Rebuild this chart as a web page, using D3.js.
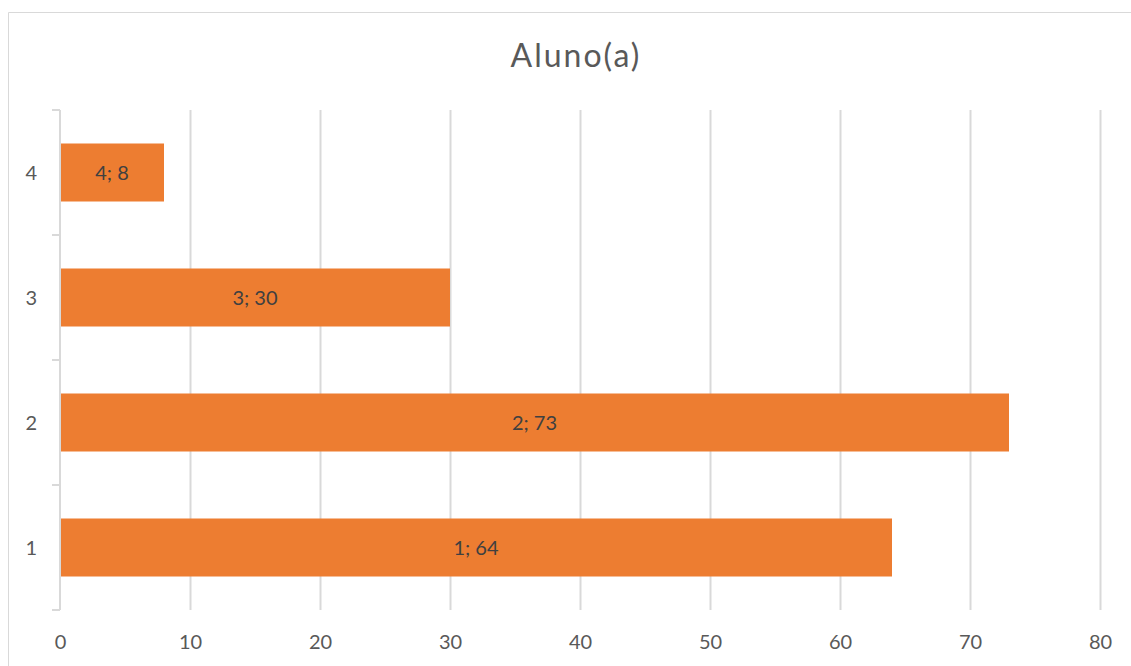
<!DOCTYPE html>
<html>
<head>
<meta charset="utf-8">
<script src="https://cdn.jsdelivr.net/npm/d3@7"></script>
<style>
  html, body { margin: 0; padding: 0; background: #fff; }
  svg { display: block; font-family: Lato, "Open Sans", sans-serif; }
</style>
</head>
<body>
<svg id="chart" width="1131" height="666"></svg>
<script>
const title = "Aluno(a)";
const categories = ["1", "2", "3", "4"];
const values = [64, 73, 30, 8];
const xTicks = [0, 10, 20, 30, 40, 50, 60, 70, 80];

const svg = d3.select("#chart");
const W = 1131, H = 666;
const margin = { left: 60, right: 31, top: 110, bottom: 56 };

// chart border (top & left visible)
svg.append("line").attr("x1", 8.5).attr("x2", W).attr("y1", 12.5).attr("y2", 12.5)
  .attr("stroke", "#D9D9D9").attr("stroke-width", 1);
svg.append("line").attr("x1", 8.5).attr("x2", 8.5).attr("y1", 12.5).attr("y2", H)
  .attr("stroke", "#D9D9D9").attr("stroke-width", 1);

const x = d3.scaleLinear().domain([0, 80]).range([margin.left, W - margin.right]);
const y = d3.scaleBand().domain(categories.slice().reverse())
  .range([margin.top, H - margin.bottom]).paddingInner(0.536).paddingOuter(0.268);
const yEdges = d3.scaleBand().domain(categories.slice().reverse())
  .range([margin.top, H - margin.bottom]).padding(0);

// gridlines
svg.append("g").selectAll("line").data(xTicks.filter(d => d > 0)).join("line")
  .attr("x1", d => Math.round(x(d)) + 0.5).attr("x2", d => Math.round(x(d)) + 0.5)
  .attr("y1", margin.top).attr("y2", H - margin.bottom)
  .attr("stroke", "#D9D9D9").attr("stroke-width", 2);

// bars
svg.append("g").selectAll("rect").data(categories).join("rect")
  .attr("x", x(0) + 1)
  .attr("y", d => y(d))
  .attr("width", (d, i) => x(values[i]) - x(0) - 1)
  .attr("height", y.bandwidth())
  .attr("fill", "#ED7D31");

// data labels
svg.append("g").selectAll("text").data(categories).join("text")
  .attr("x", (d, i) => (x(0) + x(values[i])) / 2)
  .attr("y", d => y(d) + y.bandwidth() / 2)
  .attr("dy", "0.35em")
  .attr("text-anchor", "middle")
  .attr("font-size", 20)
  .attr("fill", "#404040")
  .text((d, i) => d + "; " + values[i]);

// y axis
const yAxis = svg.append("g");
yAxis.append("line").attr("x1", x(0)).attr("x2", x(0))
  .attr("y1", margin.top).attr("y2", H - margin.bottom)
  .attr("stroke", "#D9D9D9").attr("stroke-width", 2);
const edges = categories.map(c => yEdges(c)).concat([H - margin.bottom]);
yAxis.selectAll("line.tick").data(edges).join("line").attr("class", "tick")
  .attr("x1", x(0) - 8).attr("x2", x(0))
  .attr("y1", d => d).attr("y2", d => d)
  .attr("stroke", "#D9D9D9").attr("stroke-width", 2);
yAxis.selectAll("text").data(categories).join("text")
  .attr("x", 37).attr("y", d => yEdges(d) + yEdges.bandwidth() / 2)
  .attr("dy", "0.35em").attr("text-anchor", "end")
  .attr("font-size", 20).attr("fill", "#595959")
  .text(d => d);

// x axis labels
const xAxis = d3.axisBottom(x).tickValues(xTicks).tickSize(0).tickPadding(0);
const gx = svg.append("g").attr("transform", `translate(0, ${H - margin.bottom + 25})`).call(xAxis);
gx.select(".domain").remove();
gx.selectAll("text").attr("font-size", 20).attr("fill", "#595959")
  .attr("font-family", "Lato, 'Open Sans', sans-serif");

// title
svg.append("text").attr("x", 576).attr("y", 67)
  .attr("text-anchor", "middle").attr("font-size", 32).attr("fill", "#595959")
  .attr("letter-spacing", 2)
  .text(title);
</script>
</body>
</html>
